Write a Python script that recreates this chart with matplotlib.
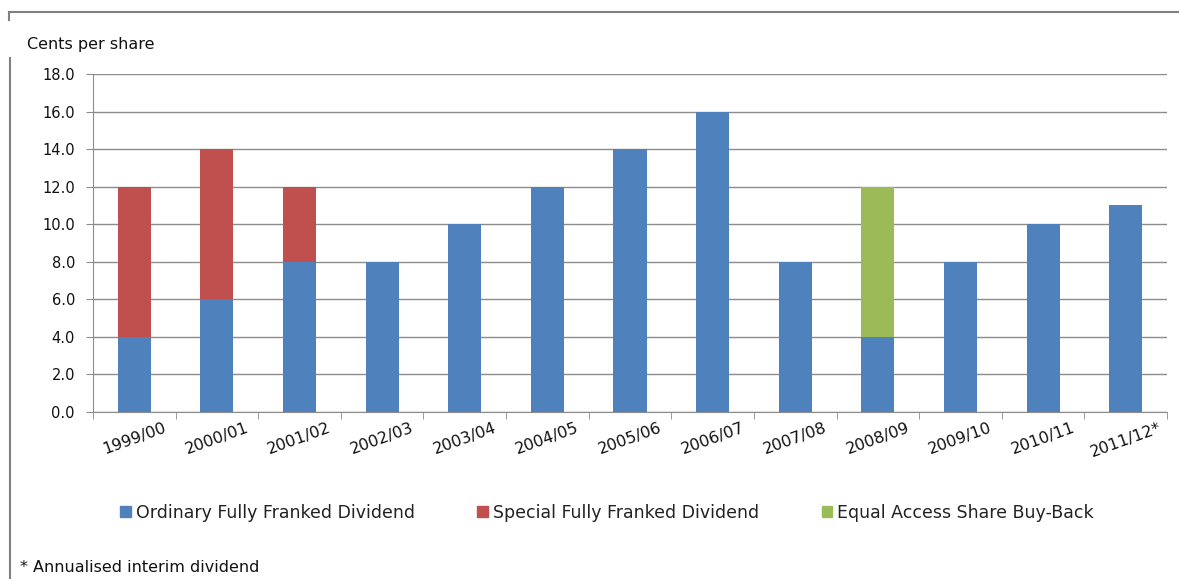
import matplotlib
matplotlib.use("Agg")
import matplotlib.pyplot as plt
from matplotlib.lines import Line2D
from matplotlib.patches import Patch
import numpy as np

categories = ["1999/00", "2000/01", "2001/02", "2002/03", "2003/04", "2004/05", "2005/06",
              "2006/07", "2007/08", "2008/09", "2009/10", "2010/11", "2011/12*"]
ordinary = [4, 6, 8, 8, 10, 12, 14, 16, 8, 4, 8, 10, 11]
special = [8, 8, 4, 0, 0, 0, 0, 0, 0, 0, 0, 0, 0]
buyback = [0, 0, 0, 0, 0, 0, 0, 0, 0, 8, 0, 0, 0]
yticks = [0, 2, 4, 6, 8, 10, 12, 14, 16, 18]

plt.rcParams['font.family'] = ['DejaVu Sans']

W, H = 1179, 579
fig = plt.figure(figsize=(W / 100, H / 100), dpi=100)
ax = fig.add_axes([93 / W, 1 - 412 / H, (1167 - 93) / W, (412 - 74) / H])

x = np.arange(len(categories))
bw = 0.4
c_ord, c_spec, c_bb = "#4F81BD", "#C0504D", "#9BBB59"
ax.bar(x, ordinary, bw, color=c_ord, zorder=3)
ax.bar(x, special, bw, bottom=ordinary, color=c_spec, zorder=3)
ax.bar(x, buyback, bw, bottom=np.array(ordinary) + np.array(special), color=c_bb, zorder=3)

ax.set_xlim(-0.5, len(categories) - 0.5)
ax.set_ylim(0, 18)
ax.set_yticks(yticks)
ax.set_yticklabels([f"{v:.1f}" for v in yticks], fontsize=10.5)
ax.yaxis.grid(True, color="#8C8C8C", linewidth=1)
ax.set_axisbelow(True)
for s in ["top", "right"]:
    ax.spines[s].set_visible(False)
ax.spines["left"].set_color("#8C8C8C")
ax.spines["bottom"].set_color("#8C8C8C")
ax.tick_params(axis="y", length=5, color="#8C8C8C", pad=8, labelcolor="#111111")
ax.set_xticks(np.arange(len(categories) + 1) - 0.5, minor=True)
ax.set_xticks(x)
ax.set_xticklabels(categories, rotation=20, ha="center", fontsize=11.5)
ax.tick_params(axis="x", which="major", length=0, pad=6, labelcolor="#111111")
ax.tick_params(axis="x", which="minor", length=5, color="#8C8C8C")

fig.text(27 / W, 1 - 44 / H, "Cents per share", fontsize=11.5, va="center", ha="left", color="#111111")
fig.text(20 / W, 1 - 567 / H, "* Annualised interim dividend", fontsize=11.5, va="center", ha="left",
         color="#111111")

handles = [Patch(color=c_ord), Patch(color=c_spec), Patch(color=c_bb)]
labels = ["Ordinary Fully Franked Dividend", "Special Fully Franked Dividend", "Equal Access Share Buy-Back"]
leg = fig.legend(handles, labels, loc="center", bbox_to_anchor=(607 / W, 1 - 513 / H), ncol=3,
                 frameon=False, fontsize=12.5, handlelength=0.6, handleheight=0.6,
                 handletextpad=0.3, columnspacing=3.6)
for t in leg.get_texts():
    t.set_color("#222222")

# frame lines
fig.add_artist(Line2D([9 / W, 1], [1 - 12 / H, 1 - 12 / H], transform=fig.transFigure, color="#808080", lw=1.5))
fig.add_artist(Line2D([9 / W, 9 / W], [1 - 12 / H, 1 - 20 / H], transform=fig.transFigure, color="#808080", lw=1.5))
fig.add_artist(Line2D([10 / W, 10 / W], [1 - 58 / H, 0], transform=fig.transFigure, color="#808080", lw=1.5))

fig.savefig("out.png", dpi=100)
